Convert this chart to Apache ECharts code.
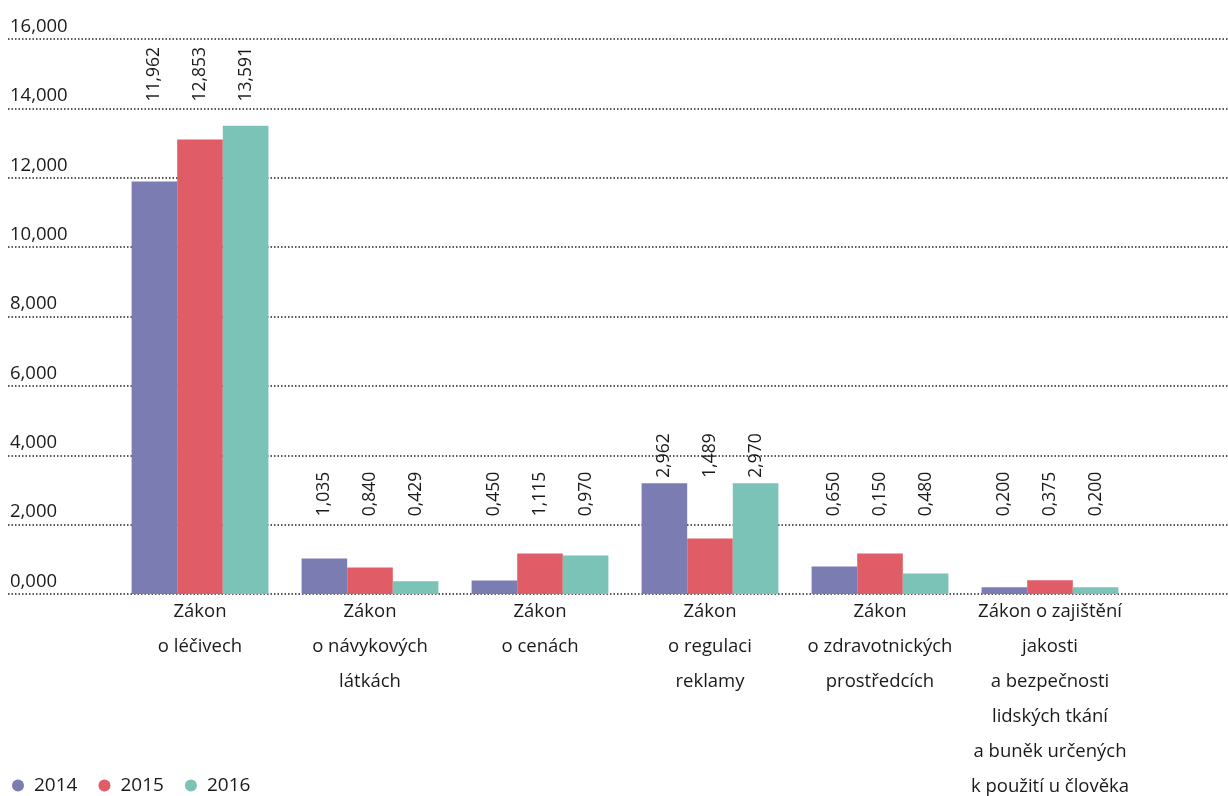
<!DOCTYPE html>
<html>
<head>
<meta charset="utf-8">
<script src="https://cdn.jsdelivr.net/npm/echarts@6/dist/echarts.min.js"></script>
<style>html,body{margin:0;padding:0;background:#fff;}#c{width:1228px;height:796px;}</style>
</head>
<body>
<div id="c"></div>
<script>
// ---- data ----
const categories = [
  'Zákon\no léčivech',
  'Zákon\no návykových\nlátkách',
  'Zákon\no cenách',
  'Zákon\no regulaci\nreklamy',
  'Zákon\no zdravotnických\nprostředcích',
  'Zákon o zajištění\njakosti\na bezpečnosti\nlidských tkání\na buněk určených\nk použití u člověka'
];
const years = ['2014', '2015', '2016'];
// bar heights as drawn
const values2014 = [11890, 1025, 390, 3190, 795, 195];
const values2015 = [13100, 765, 1170, 1600, 1170, 395];
const values2016 = [13500, 370, 1110, 3190, 590, 195];
// printed value labels
const labels2014 = ['11,962', '1,035', '0,450', '2,962', '0,650', '0,200'];
const labels2015 = ['12,853', '0,840', '1,115', '1,489', '0,150', '0,375'];
const labels2016 = ['13,591', '0,429', '0,970', '2,970', '0,480', '0,200'];
const yTicks = [0, 2000, 4000, 6000, 8000, 10000, 12000, 14000, 16000];

// ---- layout / style ----
const LABEL_LEVEL = [14200, 2240, 2240, 3350, 2240, 2240];
const colors = ['#7b7cb2', '#e05c66', '#7bc2b7'];
const FONT = '"Open Sans", "Noto Sans", sans-serif';
const TXT = '#1a1a1a';

function fmt(v) {
  return Math.floor(v / 1000) + ',' + String(v % 1000).padStart(3, '0');
}

const valueSets = [values2014, values2015, values2016];
const labelSets = [labels2014, labels2015, labels2016];

const series = [];
years.forEach((y, i) => {
  series.push({
    name: y, type: 'bar', xAxisIndex: 1, yAxisIndex: 1, stack: 's' + i,
    barWidth: 45.6, barGap: '0%',
    itemStyle: { color: colors[i] },
    data: valueSets[i]
  });
  series.push({
    name: y + '_label', type: 'bar', xAxisIndex: 1, yAxisIndex: 1, stack: 's' + i,
    barWidth: 45.6, barGap: '0%',
    itemStyle: { color: 'rgba(0,0,0,0)' },
    silent: true,
    data: valueSets[i].map((v, k) => ({
      value: LABEL_LEVEL[k] - v,
      label: { formatter: labelSets[i][k] }
    })),
    label: {
      show: true, position: 'top', distance: 0, rotate: 90,
      align: 'left', verticalAlign: 'middle',
      fontFamily: FONT, fontSize: 17.5, color: TXT
    }
  });
});

const chart = echarts.init(document.getElementById('c'));
chart.setOption({
  animation: false,
  backgroundColor: '#fff',
  legend: {
    data: years, icon: 'circle', left: 12, top: 776, padding: 0,
    itemWidth: 12, itemHeight: 12, itemGap: 21,
    textStyle: { fontFamily: FONT, fontSize: 19, color: TXT, padding: [0, 0, 0, 5] }
  },
  grid: [
    { left: 8, right: 0, top: 39, bottom: 202, outerBoundsMode: 'none', containLabel: false },
    { left: 115, right: 93, top: 39, bottom: 202, outerBoundsMode: 'none', containLabel: false }
  ],
  xAxis: [
    { type: 'value', gridIndex: 0, min: 0, max: 1, show: false },
    {
      type: 'category', gridIndex: 1, data: categories,
      axisLine: { show: false }, axisTick: { show: false },
      axisLabel: {
        interval: 0, margin: 0, fontFamily: FONT, fontSize: 18.5,
        lineHeight: 35, color: TXT, verticalAlign: 'top'
      }
    }
  ],
  yAxis: [
    {
      type: 'value', gridIndex: 0, min: yTicks[0], max: yTicks[yTicks.length - 1],
      interval: yTicks[1] - yTicks[0],
      axisLine: { show: false }, axisTick: { show: false },
      axisLabel: {
        inside: true, margin: 2, formatter: fmt, verticalAlign: 'bottom',
        padding: [0, 0, 3, 0],
        fontFamily: FONT, fontSize: 18.5, color: TXT
      },
      splitLine: { show: true, lineStyle: { color: '#222', width: 1.5, type: [1.5, 2] } }
    },
    {
      type: 'value', gridIndex: 1, min: yTicks[0], max: yTicks[yTicks.length - 1],
      interval: yTicks[1] - yTicks[0], show: false, splitLine: { show: false }
    }
  ],
  series: series
});
</script>
</body>
</html>
